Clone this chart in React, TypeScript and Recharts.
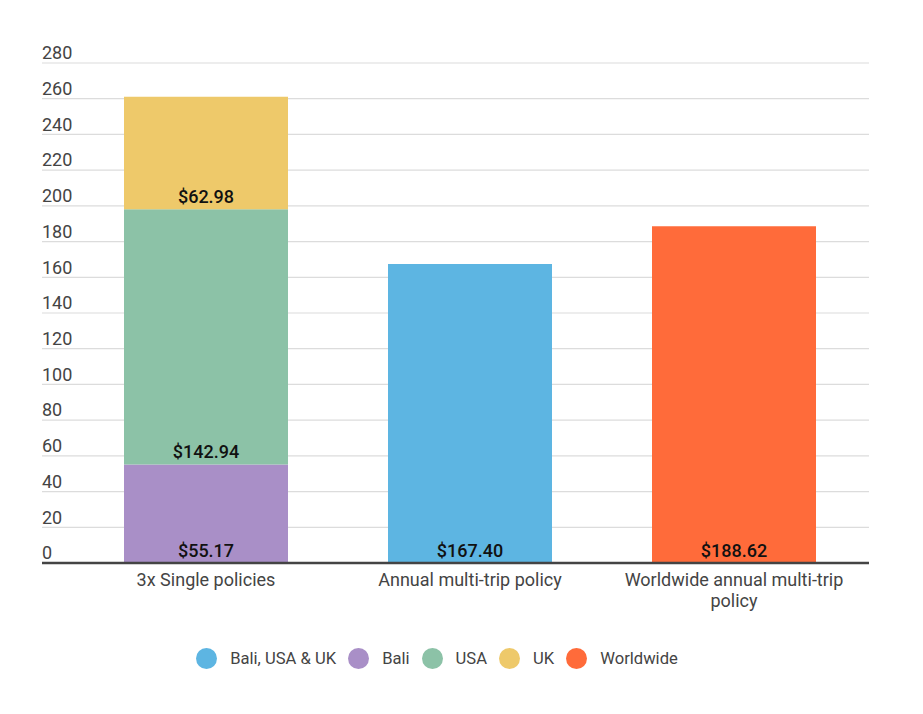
import React from 'react'
import {
  BarChart,
  Bar,
  XAxis,
  YAxis,
  CartesianGrid,
  Legend,
  LabelList,
} from 'recharts'

const categories = ['3x Single policies', 'Annual multi-trip policy', 'Worldwide annual multi-trip policy']
const baliValues = [55.17, null, null]
const usaValues = [142.94, null, null]
const ukValues = [62.98, null, null]
const allThreeValues = [null, 167.4, null]
const worldwideValues = [null, null, 188.62]
const yTicks = [0, 20, 40, 60, 80, 100, 120, 140, 160, 180, 200, 220, 240, 260, 280]

const series = [
  { key: 'all3', name: 'Bali, USA & UK', color: '#5DB5E2' },
  { key: 'bali', name: 'Bali', color: '#A98FC7' },
  { key: 'usa', name: 'USA', color: '#8CC2A7' },
  { key: 'uk', name: 'UK', color: '#EEC96A' },
  { key: 'worldwide', name: 'Worldwide', color: '#FF6B3A' },
]

const chartData = categories.map((name, i) => ({
  name,
  bali: baliValues[i],
  usa: usaValues[i],
  uk: ukValues[i],
  all3: allThreeValues[i],
  worldwide: worldwideValues[i],
}))

const FONT = 'Roboto, sans-serif'

// greedy word wrap by character count, good enough for the axis labels
const wrap = (s: string, max: number) => {
  const lines: string[] = []
  let cur = ''
  s.split(' ').forEach((w) => {
    const next = cur ? cur + ' ' + w : w
    if (next.length > max && cur) {
      lines.push(cur)
      cur = w
    } else {
      cur = next
    }
  })
  if (cur) lines.push(cur)
  return lines
}

// y labels sit above the gridline, flush with its left end
const renderYTick = (props: any) => {
  const { y, payload } = props
  return (
    <text key={payload.value} x={42} y={y - 10} dy="0.35em" fontFamily={FONT} fontSize={18} fill="#444">
      {payload.value}
    </text>
  )
}

const renderXTick = (props: any) => {
  const { x, y, payload } = props
  const lines = wrap(payload.value, 27)
  return (
    <text key={payload.value} x={x} y={y - 1} textAnchor="middle" fontFamily={FONT} fontSize={18} fill="#444">
      {lines.map((l, i) => (
        <tspan key={i} x={x} dy={i === 0 ? '0.9em' : 21}>
          {l}
        </tspan>
      ))}
    </text>
  )
}

const LegendContent = () => (
  <div
    style={{
      display: 'flex',
      justifyContent: 'center',
      alignItems: 'center',
      height: 40,
      paddingRight: 24,
      fontFamily: FONT,
      fontSize: 16.6,
      color: '#444',
    }}
  >
    {series.map((s) => (
      <div key={s.key} style={{ display: 'flex', alignItems: 'center', marginRight: 12 }}>
        <span
          style={{
            width: 21,
            height: 21,
            borderRadius: '50%',
            background: s.color,
            display: 'inline-block',
            marginRight: 13,
          }}
        />
        <span>{s.name}</span>
      </div>
    ))}
  </div>
)

const money = (v: any) => (v == null || v === 0 ? '' : `$${Number(v).toFixed(2)}`)

export default function App() {
  return (
    <div style={{ position: 'absolute', left: 0, top: 0, width: 923, height: 714, background: '#fff' }}>
      <BarChart
        width={923}
        height={714}
        data={chartData}
        margin={{ top: 63, right: 54, left: 41, bottom: 36 }}
        barSize={164}
      >
        <CartesianGrid vertical={false} stroke="#dcdcdc" strokeWidth={1.2} />
        <YAxis
          width={1}
          domain={[0, 280]}
          ticks={yTicks}
          axisLine={false}
          tickLine={false}
          tick={renderYTick}
          interval={0}
        />
        <XAxis
          dataKey="name"
          height={75}
          padding={{ left: 32, right: 3 }}
          axisLine={{ stroke: '#444', strokeWidth: 2.5 }}
          tickLine={false}
          tick={renderXTick}
          interval={0}
        />
        <Legend verticalAlign="bottom" content={<LegendContent />} />
        {['bali', 'usa', 'uk', 'all3', 'worldwide'].map((k) => {
          const s = series.find((x) => x.key === k)!
          return (
            <Bar key={k} dataKey={k} name={s.name} stackId="a" fill={s.color} isAnimationActive={false}>
              <LabelList
                dataKey={k}
                position="insideBottom"
                offset={6}
                formatter={money}
                fontFamily={FONT}
                fontSize={18}
                fontWeight={500}
                fill="#111"
              />
            </Bar>
          )
        })}
      </BarChart>
    </div>
  )
}
